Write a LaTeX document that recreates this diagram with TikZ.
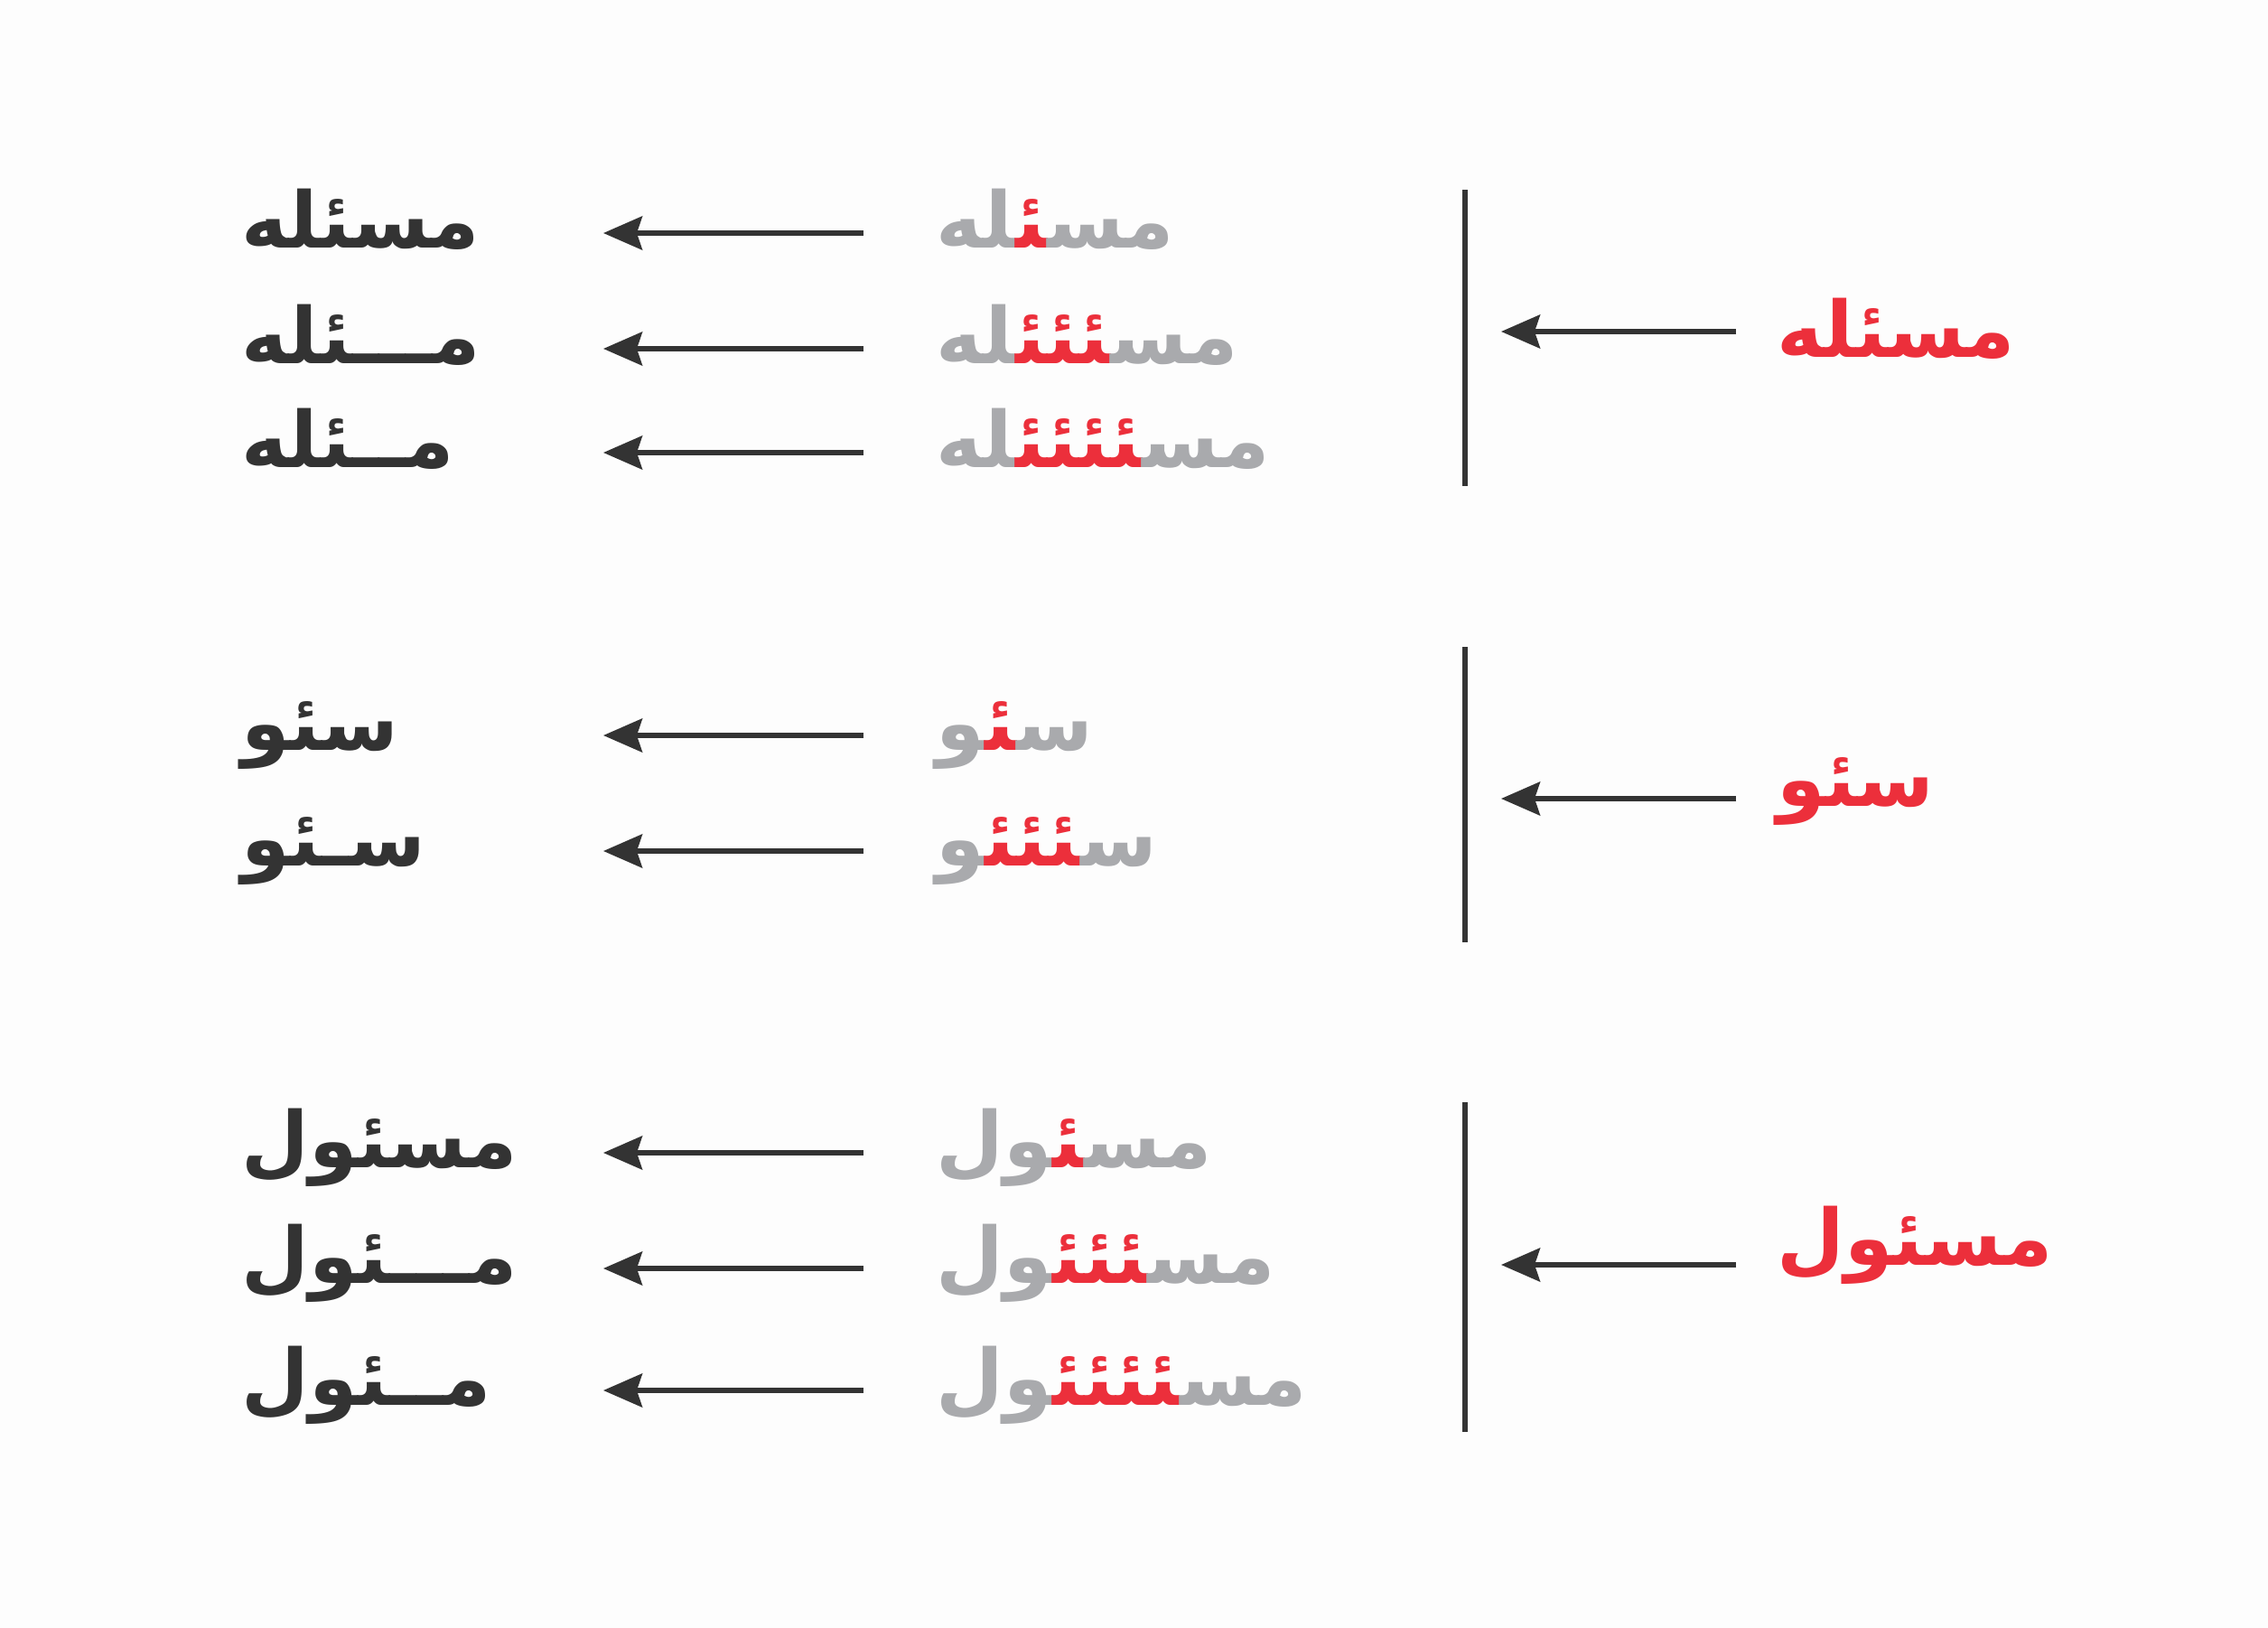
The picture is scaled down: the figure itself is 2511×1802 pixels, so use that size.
\documentclass[tikz,border=0pt]{standalone}
\usepackage{fontspec}
\usepackage{xcolor}
\usetikzlibrary{arrows.meta}
\TeXXeTstate=1
\newfontfamily\arabicfont[Script=Arabic]{DejaVu Sans}
\definecolor{inkdark}{HTML}{333333}
\definecolor{inkgray}{HTML}{A9AAAD}
\definecolor{inkred}{HTML}{EC2F3B}
\definecolor{paper}{HTML}{FDFDFD}
\newcommand\jz{\char"200D\relax}
% #1 = start of word (right), #2 = red middle, #3 = end of word (left)
\newcommand\hamzaword[3]{%
  \mbox{\beginR\jz #3\endR}%
  \mbox{\color{inkred}\beginR\jz #2\jz\endR}%
  \mbox{\beginR #1\jz\endR}}
\begin{document}
\begin{tikzpicture}[x=0.1mm,y=-0.1mm,
  word/.style={anchor=base west, inner sep=0pt, font=\arabicfont\bfseries\fontsize{24.5}{29}\selectfont},
  blackword/.style={word, text=inkdark},
  redword/.style={word, text=inkred},
  grayword/.style={word, text=inkgray},
  arr/.style={draw=inkdark, line width=1.5pt, -{Stealth[length=4.3mm,width=3.7mm,inset=0.6mm]}},
  bar/.style={draw=inkdark, line width=1.7pt}]
\fill[paper] (0,0) rectangle (2511,1802);
\useasboundingbox (0,0) rectangle (2511,1802);

% ---------- section 1 ----------
\node[redword] (r1) at (1967,395) {\beginR مسئله\endR};
\node[grayword] (g11) at (1036,274) {\hamzaword{مس}{ئ}{له}};
\node[grayword] (g12) at (1036,402) {\hamzaword{مس}{ئئئ}{له}};
\node[grayword] (g13) at (1036,517) {\hamzaword{مس}{ئئئئ}{له}};
\node[blackword] (k11) at (267,274) {\beginR مسئله\endR};
\node[blackword] (k12) at (267,402) {\beginR مـــئله\endR};
\node[blackword] (k13) at (267,517) {\beginR مــئله\endR};

\coordinate (b1t) at (1622,210); \coordinate (b1b) at (1622,538);
\draw[bar] (b1t) -- (b1b);
\coordinate (ra1) at (1922,367); \coordinate (rb1) at (1662,367);
\draw[arr] (ra1) -- (rb1);
\foreach \n/\y in {11/258,12/386,13/501}{
  \coordinate (ma\n) at (956,\y); \coordinate (mb\n) at (668,\y);
  \draw[arr] (ma\n) -- (mb\n);
}

% ---------- section 2 ----------
\node[redword] (r2) at (1967,892) {\beginR سئو\endR};
\node[grayword] (g21) at (1036,830) {\hamzaword{س}{ئ}{و}};
\node[grayword] (g22) at (1036,958) {\hamzaword{س}{ئئئ}{و}};
\node[blackword] (k21) at (267,830) {\beginR سئو\endR};
\node[blackword] (k22) at (267,958) {\beginR سـئو\endR};

\coordinate (b2t) at (1622,716); \coordinate (b2b) at (1622,1043);
\draw[bar] (b2t) -- (b2b);
\coordinate (ra2) at (1922,884); \coordinate (rb2) at (1662,884);
\draw[arr] (ra2) -- (rb2);
\foreach \n/\y in {21/814,22/942}{
  \coordinate (ma\n) at (956,\y); \coordinate (mb\n) at (668,\y);
  \draw[arr] (ma\n) -- (mb\n);
}

% ---------- section 3 ----------
\node[redword] (r3) at (1967,1400) {\beginR مسئول\endR};
\node[grayword] (g31) at (1036,1292) {\hamzaword{مس}{ئ}{ول}};
\node[grayword] (g32) at (1036,1420) {\hamzaword{مس}{ئئئ}{ول}};
\node[grayword] (g33) at (1036,1555) {\hamzaword{مس}{ئئئئ}{ول}};
\node[blackword] (k31) at (267,1292) {\beginR مسئول\endR};
\node[blackword] (k32) at (267,1420) {\beginR مـــئول\endR};
\node[blackword] (k33) at (267,1555) {\beginR مــئول\endR};

\coordinate (b3t) at (1622,1220); \coordinate (b3b) at (1622,1585);
\draw[bar] (b3t) -- (b3b);
\coordinate (ra3) at (1922,1400); \coordinate (rb3) at (1662,1400);
\draw[arr] (ra3) -- (rb3);
\foreach \n/\y in {31/1276,32/1404,33/1539}{
  \coordinate (ma\n) at (956,\y); \coordinate (mb\n) at (668,\y);
  \draw[arr] (ma\n) -- (mb\n);
}
\end{tikzpicture}
\end{document}
